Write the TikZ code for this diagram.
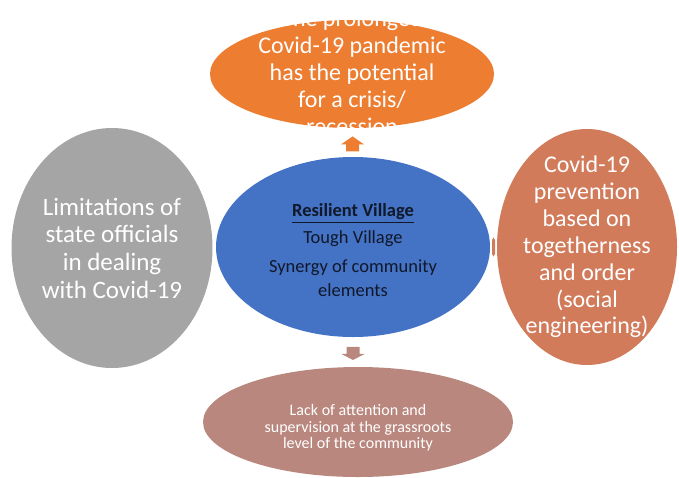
\documentclass[tikz,border=0pt]{standalone}
\usepackage{fontspec}
\setmainfont{Carlito}
\usepackage{tikz}
\usetikzlibrary{shapes,calc}
\definecolor{topcol}{HTML}{ED7D31}
\definecolor{midcol}{HTML}{4472C4}
\definecolor{leftcol}{HTML}{A5A5A5}
\definecolor{rightcol}{HTML}{D17B5B}
\definecolor{lowcol}{HTML}{B9877E}
\definecolor{inkcol}{HTML}{10182A}
\newcommand\fatline[1]{\setbox0\hbox{#1}\leavevmode\vtop{\copy0\kern2pt\hrule height1.8pt width\wd0}}

\begin{document}
\begin{tikzpicture}[x=1pt,y=-1pt]
\tikzstyle{bubble}=[ellipse,inner sep=0pt]
\tikzstyle{words}=[align=center,text=white,inner sep=0pt]
\useasboundingbox (0,0) rectangle (679,477);
\node[bubble,fill=leftcol,minimum width=201pt,minimum height=240pt] (left) at (112,248) {};
\node[bubble,fill=rightcol,minimum width=180pt,minimum height=236pt] (right) at (587,247) {};
\node[bubble,fill=topcol,minimum width=284pt,minimum height=108pt] (top) at (352,74) {};
\node[bubble,fill=midcol,minimum width=274pt,minimum height=180pt] (mid) at (353,247) {};
\node[bubble,fill=lowcol,minimum width=310pt,minimum height=110pt] (low) at (358,422) {};
\coordinate (upmid) at ($(top.south)!0.55!(mid.north)$);
\coordinate (downmid) at ($(mid.south)!0.55!(mid.south|-low.north)$);
\coordinate (sidemid) at ($(mid.east)!0.5!(right.west)$);
\fill[topcol] (upmid) ++(-6.5,7.5) -- ++(0,-7) -- ++(-5,0) -- ++(11.5,-8)
  -- ++(11.5,8) -- ++(-5,0) -- ++(0,7) -- cycle;
\fill[lowcol] (downmid) ++(-6.5,-6.5) -- ++(0,7) -- ++(-5,0) -- ++(11.5,6)
  -- ++(11.5,-6) -- ++(-5,0) -- ++(0,-7) -- cycle;
\fill[rightcol] (sidemid) ++(-1.5,-7) -- ++(1.5,-2.5) -- ++(1.5,2.5) -- ++(0,14)
  -- ++(-1.5,2.5) -- ++(-1.5,-2.5) -- cycle;
\node[words,font=\fontsize{25}{27.7}\selectfont] (lefttext) at (left.center)
  {Limitations of\\state officials\\in dealing\\with Covid-19};
\node[words,font=\fontsize{24}{26.9}\selectfont] (righttext) at (right.center)
  {Covid-19\\prevention\\based on\\togetherness\\and order\\(social\\engineering)};
\node[words,font=\fontsize{24}{26.9}\selectfont] (toptext) at ([yshift=2pt]top.center)
  {The prolonged\\Covid-19 pandemic\\has the potential\\for a crisis/\\recession};
\node[words,text=inkcol,font=\fontsize{18.5}{24}\selectfont] (midtext) at ([yshift=-3pt]mid.center)
  {\fatline{\textbf{Resilient Village}}\\[3pt]Tough Village\\[5pt]Synergy of community\\elements};
\node[words,font=\fontsize{16}{16.7}\selectfont] (lowtext) at ([yshift=-6pt]low.center)
  {Lack of attention and\\supervision at the grassroots\\level of the community};
\end{tikzpicture}
\end{document}
